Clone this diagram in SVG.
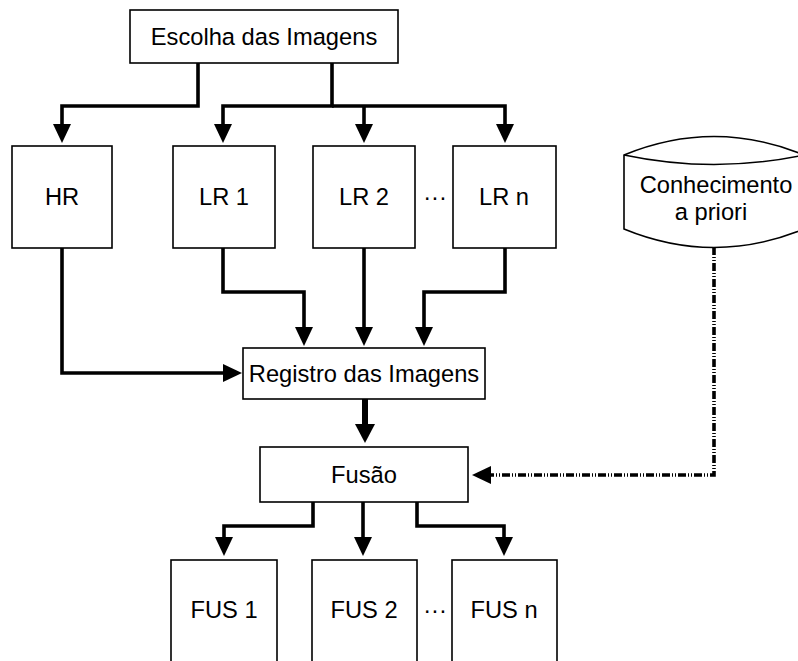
<svg xmlns="http://www.w3.org/2000/svg" width="798" height="661" viewBox="0 0 798 661">
<defs>
<style>
.box{fill:#fff;stroke:#000;stroke-width:1.6}
.t{font-family:"Liberation Sans",Arial,sans-serif;font-size:23.7px;fill:#000;text-anchor:middle}
.c{fill:none;stroke:#000;stroke-width:3.6;stroke-linejoin:miter}
.thick{stroke-width:6}
.dash{stroke-dasharray:8 2 1 2 1 2}
</style>
<marker id="arr" markerUnits="userSpaceOnUse" markerWidth="20" markerHeight="20" refX="0" refY="9" orient="auto" overflow="visible">
<path d="M0,0 L19,9 L0,18 z" fill="#000"/>
</marker>
<marker id="arrB" markerUnits="userSpaceOnUse" markerWidth="22" markerHeight="22" refX="0" refY="10" orient="auto" overflow="visible">
<path d="M0,0 L19,10 L0,20 z" fill="#000"/>
</marker>
</defs>
<rect width="798" height="661" fill="#fff"/>
<g id="connectors">
<path class="c" d="M198,63 V106 H62 V124" marker-end="url(#arr)"/>
<path class="c" d="M332,63 V106 H223 V124" marker-end="url(#arr)"/>
<path class="c" d="M332,106 H505 V124" marker-end="url(#arr)"/>
<path class="c" d="M364,106 V124" marker-end="url(#arr)"/>
<path class="c" d="M62,248 V373 H223" marker-end="url(#arr)"/>
<path class="c" d="M223,248 V292 H304 V327" marker-end="url(#arr)"/>
<path class="c" d="M364,248 V327" marker-end="url(#arr)"/>
<path class="c" d="M505,248 V292 H424 V327" marker-end="url(#arr)"/>
<path class="c thick" d="M365,399 V424" marker-end="url(#arrB)"/>
<path class="c" d="M313,502 V526 H224 V537" marker-end="url(#arr)"/>
<path class="c" d="M363,502 V537" marker-end="url(#arr)"/>
<path class="c" d="M417,502 V526 H504 V537" marker-end="url(#arr)"/>
<path class="c dash" d="M714,247 V475 H491" marker-end="url(#arr)"/>
</g>
<g id="escolha">
<rect class="box" x="130" y="10" width="268" height="53"/>
<text class="t" x="264" y="45">Escolha das Imagens</text>
</g>
<g id="hr">
<rect class="box" x="12" y="146" width="100" height="102"/>
<text class="t" x="62" y="205">HR</text>
</g>
<g id="lr1">
<rect class="box" x="173" y="146" width="102" height="102"/>
<text class="t" x="224" y="205">LR 1</text>
</g>
<g id="lr2">
<rect class="box" x="313" y="146" width="102" height="102"/>
<text class="t" x="364" y="205">LR 2</text>
</g>
<g id="dots1">
<text class="t" x="435" y="205">···</text>
</g>
<g id="lrn">
<rect class="box" x="453" y="146" width="103" height="102"/>
<text class="t" x="504" y="205">LR n</text>
</g>
<g id="conhecimento">
<path class="box" d="M624,155 Q714,118 804,155 V229 Q714,266 624,229 Z"/>
<path fill="none" stroke="#000" stroke-width="1.6" d="M624,155 Q714,174 804,155"/>
<text class="t" x="716" y="193">Conhecimento</text>
<text class="t" x="711" y="220">a priori</text>
</g>
<g id="registro">
<rect class="box" x="243" y="348" width="242" height="51"/>
<text class="t" x="364" y="382">Registro das Imagens</text>
</g>
<g id="fusao">
<rect class="box" x="260" y="447" width="208" height="55"/>
<text class="t" x="364" y="483">Fusão</text>
</g>
<g id="fus1">
<rect class="box" x="171" y="560" width="106" height="103"/>
<text class="t" x="224" y="618">FUS 1</text>
</g>
<g id="fus2">
<rect class="box" x="312" y="560" width="105" height="103"/>
<text class="t" x="364" y="618">FUS 2</text>
</g>
<g id="dots2">
<text class="t" x="435" y="618">···</text>
</g>
<g id="fusn">
<rect class="box" x="452" y="560" width="105" height="103"/>
<text class="t" x="504" y="618">FUS n</text>
</g>
</svg>
